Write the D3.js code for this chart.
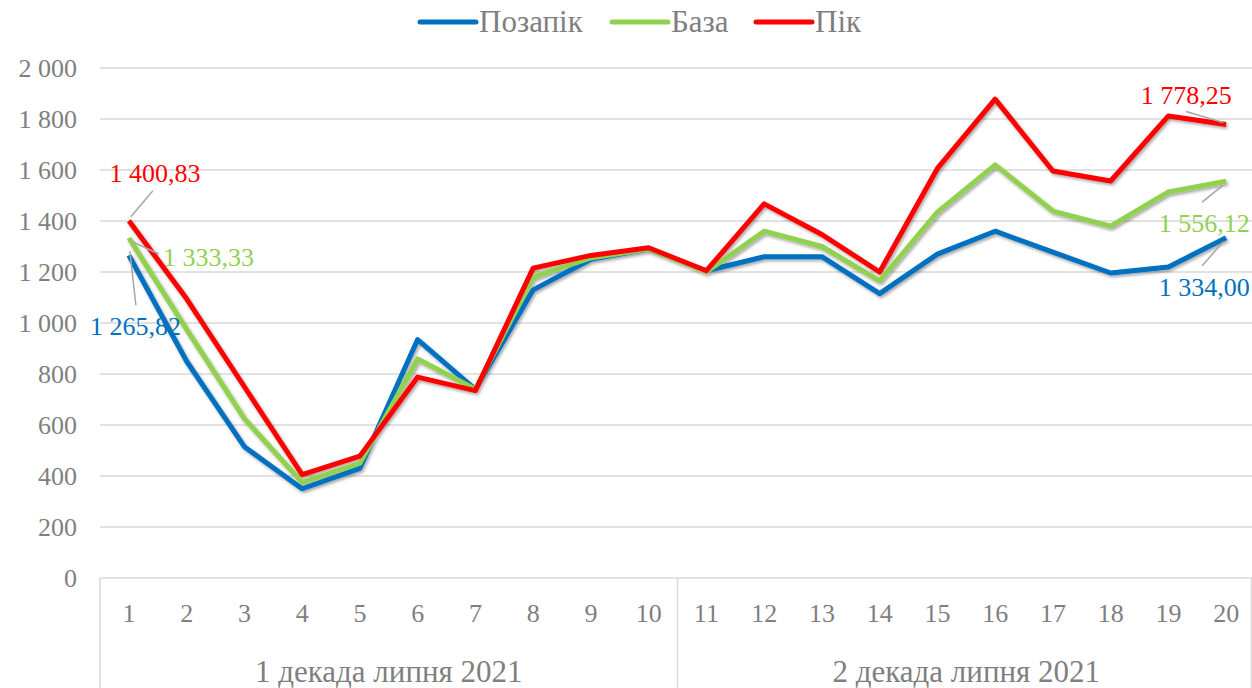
<!DOCTYPE html>
<html>
<head>
<meta charset="utf-8">
<script src="https://cdn.jsdelivr.net/npm/d3@7"></script>
<style>
  body { margin: 0; background: #fff; }
</style>
</head>
<body>
<div id="chart"></div>
<script>
// data
var days = ["1","2","3","4","5","6","7","8","9","10","11","12","13","14","15","16","17","18","19","20"];
var groups = ["1 декада липня 2021", "2 декада липня 2021"];
var offPeak = [1265.82, 850, 515, 350, 430, 935, 740, 1130, 1250, 1290, 1205, 1260, 1260, 1115, 1270, 1360, 1278, 1196, 1220, 1334.00];
var base    = [1333.33, 975, 625, 375, 450, 859, 740, 1180, 1255, 1290, 1200, 1360, 1300, 1165, 1435, 1620, 1439, 1380, 1514, 1556.12];
var peak    = [1400.83, 1095, 750, 405, 478, 788, 735, 1215, 1265, 1295, 1205, 1467, 1347, 1200, 1606, 1878, 1596, 1557, 1812, 1778.25];
var yTicks  = [0, 200, 400, 600, 800, 1000, 1200, 1400, 1600, 1800, 2000];

var seriesNames = ["Позапік", "База", "Пік"];
var colors = ["#0070C0", "#92D050", "#FF0000"];
var allSeries = [offPeak, base, peak];

var W = 1252, H = 688;
var margin = {top: 68, left: 100, bottom: 110};
var textCol = "#7f7f7f";
var fontFam = "'Liberation Serif', 'Times New Roman', 'DejaVu Serif', serif";
var numSize = "26px";
var wordSize = "31px";

var svg = d3.select("#chart").append("svg")
    .attr("width", W)
    .attr("height", H)
    .style("font-family", fontFam);

var defs = svg.append("defs");
var f = defs.append("filter").attr("id", "shadow")
    .attr("x", "-5%").attr("y", "-5%").attr("width", "110%").attr("height", "115%");
f.append("feDropShadow").attr("dx", 1.5).attr("dy", 2).attr("stdDeviation", 1.5)
    .attr("flood-color", "#000").attr("flood-opacity", 0.35);

var x = d3.scaleBand()
    .domain(days)
    .range([margin.left, 1255]);

var y = d3.scaleLinear()
    .domain([0, 2000])
    .range([578, margin.top]);

// grid
svg.append("g")
    .selectAll("line")
    .data(yTicks)
    .enter()
    .append("line")
    .attr("x1", margin.left)
    .attr("x2", W)
    .attr("y1", function(d) { return y(d); })
    .attr("y2", function(d) { return y(d); })
    .attr("stroke", "#d9d9d9")
    .attr("stroke-width", 1.5);

// y axis labels
var yAxis = svg.append("g")
    .attr("transform", "translate(" + margin.left + ",0)")
    .call(d3.axisLeft(y).tickValues(yTicks).tickSize(0).tickPadding(23)
        .tickFormat(function(d) { return d3.format(",")(d).replace(/,/g, " "); }));
yAxis.attr("font-family", null).attr("font-size", null);
yAxis.select(".domain").remove();
yAxis.selectAll("text")
    .attr("fill", textCol)
    .style("font-size", numSize);

// category box separators
var sepX = [margin.left, x("11"), W - 0.5];
svg.append("g")
    .selectAll("line")
    .data(sepX)
    .enter()
    .append("line")
    .attr("x1", function(d) { return d; })
    .attr("x2", function(d) { return d; })
    .attr("y1", y(0))
    .attr("y2", H)
    .attr("stroke", "#d9d9d9")
    .attr("stroke-width", 1.5);

// x axis day labels
var xAxis = svg.append("g")
    .attr("transform", "translate(0," + y(0) + ")")
    .call(d3.axisBottom(x).tickSize(0).tickPadding(26));
xAxis.attr("font-family", null).attr("font-size", null);
xAxis.select(".domain").remove();
xAxis.selectAll("text")
    .attr("fill", textCol)
    .style("font-size", numSize);

// group labels
svg.append("g")
    .selectAll("text")
    .data(groups)
    .enter()
    .append("text")
    .attr("x", function(d, i) {
        var a = x(days[i * 10]), b = x(days[i * 10 + 9]) + x.bandwidth();
        return (a + b) / 2;
    })
    .attr("y", 672)
    .attr("dy", "0.33em")
    .attr("text-anchor", "middle")
    .attr("fill", textCol)
    .style("font-size", wordSize)
    .text(function(d) { return d; });

// lines
var line = d3.line()
    .x(function(d, i) { return x(days[i]) + x.bandwidth() / 2; })
    .y(function(d) { return y(d); });

svg.append("g")
    .attr("filter", "url(#shadow)")
    .selectAll("path")
    .data(allSeries)
    .enter()
    .append("path")
    .attr("d", line)
    .attr("fill", "none")
    .attr("stroke", function(d, i) { return colors[i]; })
    .attr("stroke-width", 5)
    .attr("stroke-linejoin", "round");

// data labels with leader lines
function px(i) { return x(days[i]) + x.bandwidth() / 2; }
var fmt = function(v) { return d3.format(",.2f")(v).replace(/,/g, " ").replace(".", ","); };
var labels = [
    {s: 2, i: 0,  dx: 26,  dy: -48, lx1: 2,  ly1: -4,  lx2: 24, ly2: -30, anchor: "middle"},
    {s: 1, i: 0,  dx: 34,  dy: 19,  lx1: 4,  ly1: 4,   lx2: 30, ly2: 16,  anchor: "start"},
    {s: 0, i: 0,  dx: -39, dy: 71,  lx1: 1,  ly1: -4,  lx2: 7,  ly2: 50,  anchor: "start"},
    {s: 2, i: 19, dx: -40, dy: -30, lx1: -3, ly1: -2,  lx2: -40, ly2: -13, anchor: "middle"},
    {s: 1, i: 19, dx: -22, dy: 42,  lx1: -3, ly1: 4,   lx2: -24, ly2: 21,  anchor: "middle"},
    {s: 0, i: 19, dx: -22, dy: 49,  lx1: -3, ly1: 4,   lx2: -24, ly2: 28,  anchor: "middle"}
];

svg.append("g")
    .selectAll("line")
    .data(labels)
    .enter()
    .append("line")
    .attr("x1", function(d) { return px(d.i) + d.lx1; })
    .attr("y1", function(d) { return y(allSeries[d.s][d.i]) + d.ly1; })
    .attr("x2", function(d) { return px(d.i) + d.lx2; })
    .attr("y2", function(d) { return y(allSeries[d.s][d.i]) + d.ly2; })
    .attr("stroke", "#a6a6a6")
    .attr("stroke-width", 1.5);

svg.append("g")
    .selectAll("text")
    .data(labels)
    .enter()
    .append("text")
    .attr("x", function(d) { return px(d.i) + d.dx; })
    .attr("y", function(d) { return y(allSeries[d.s][d.i]) + d.dy; })
    .attr("dy", "0.35em")
    .attr("text-anchor", function(d) { return d.anchor; })
    .attr("fill", function(d) { return colors[d.s]; })
    .style("font-size", numSize)
    .text(function(d) { return fmt(allSeries[d.s][d.i]); });

// legend
var legX = [420, 612, 756];
var leg = svg.append("g")
    .selectAll("g")
    .data(seriesNames)
    .enter()
    .append("g")
    .attr("transform", function(d, i) { return "translate(" + legX[i] + ",22)"; });
leg.append("line")
    .attr("x1", 0).attr("x2", 56)
    .attr("stroke", function(d, i) { return colors[i]; })
    .attr("stroke-width", 5)
    .attr("stroke-linecap", "round");
leg.append("text")
    .attr("x", 59)
    .attr("dy", "0.33em")
    .attr("fill", textCol)
    .style("font-size", wordSize)
    .text(function(d) { return d; });
</script>
</body>
</html>
